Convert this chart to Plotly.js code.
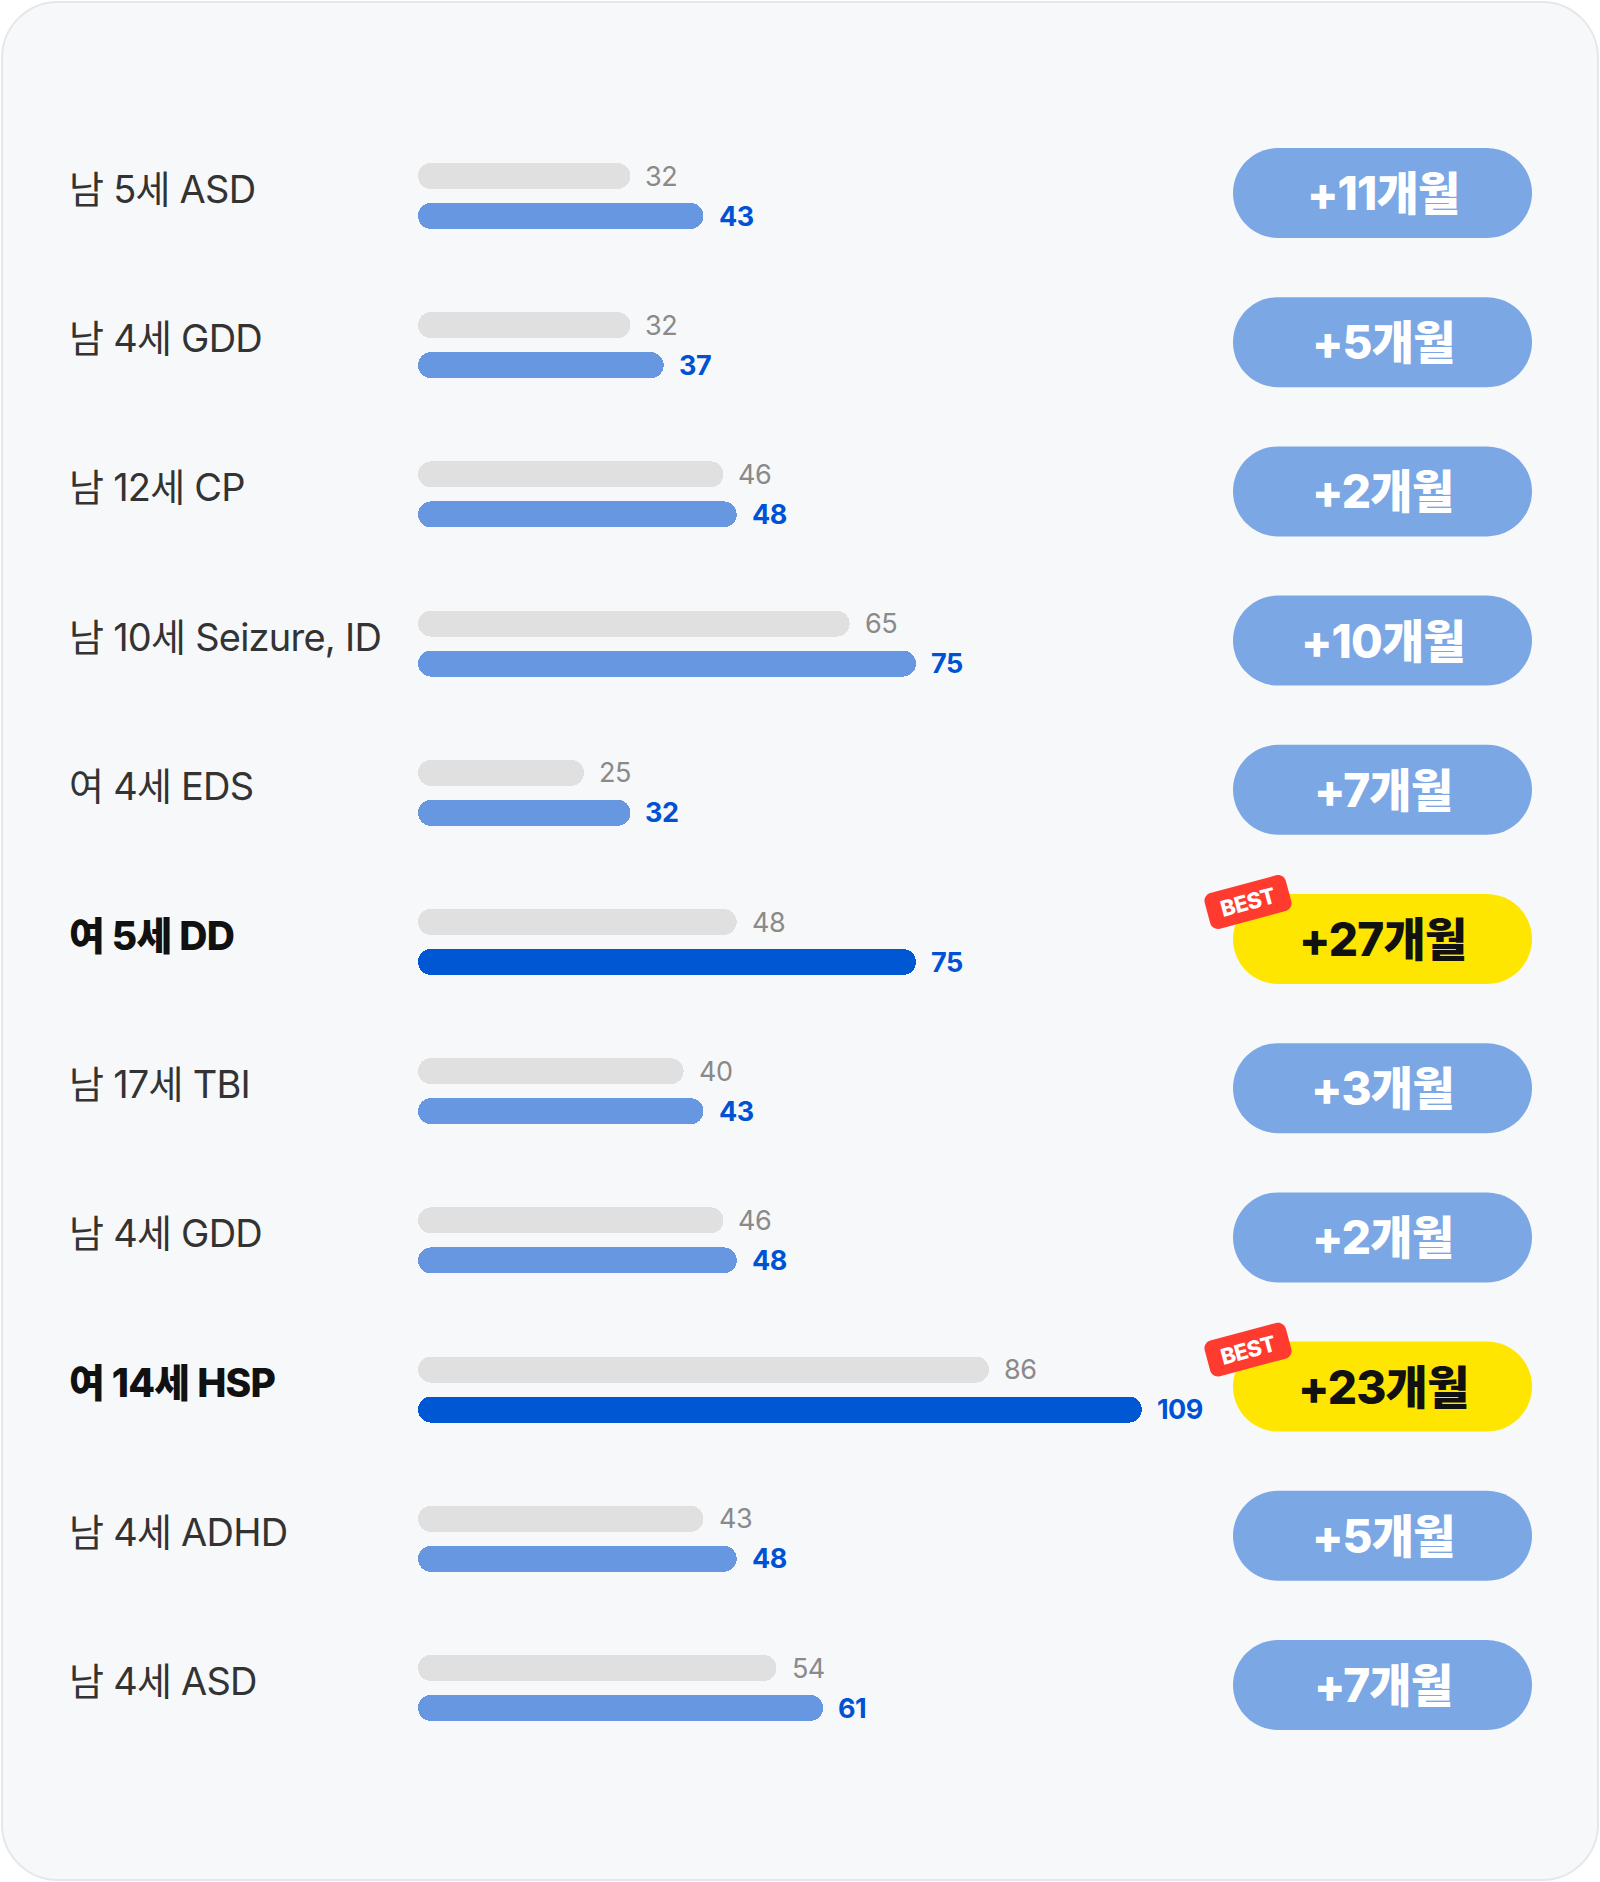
<!DOCTYPE html>
<html>
<head>
<meta charset="utf-8">
<script src="https://cdn.plot.ly/plotly-3.0.1.min.js"></script>
<style>
  html, body { margin: 0; padding: 0; background: #ffffff; }
  #chart { width: 1600px; height: 1882px; }
  .annotation-text { letter-spacing: -0.02em; }
</style>
</head>
<body>
<div id="chart"></div>
<script>
// ---------------- data ----------------
const labels = ['남 5세 ASD', '남 4세 GDD', '남 12세 CP', '남 10세 Seizure, ID', '여 4세 EDS', '여 5세 DD', '남 17세 TBI', '남 4세 GDD', '여 14세 HSP', '남 4세 ADHD', '남 4세 ASD'];
const before = [32, 32, 46, 65, 25, 48, 40, 46, 86, 43, 54];
const after = [43, 37, 48, 75, 32, 75, 43, 48, 109, 48, 61];
const gainLabels = ['+11개월', '+5개월', '+2개월', '+10개월', '+7개월', '+27개월', '+3개월', '+2개월', '+23개월', '+5개월', '+7개월'];
const best = [false, false, false, false, false, true, false, false, true, false, false];
const badgeText = 'BEST';

// ---------------- layout constants ----------------
const W = 1600, H = 1882;
const X0 = 418, PXU = 6.64;          // bar origin (px) and px per unit
const ROW0 = 189, PITCH = 149.2;     // first row centre (px) and row pitch (px)
const FONT = 'Inter, "Noto Sans CJK KR", "Noto Sans", sans-serif';

const idx = labels.map((_, i) => i);
const off = px => px / PITCH;
const GRAY_OFF = off(-13), BLUE_OFF = off(27), BAR_W = off(26);
const PILL_X0 = 1233, PILL_X1 = 1532, PILL_H = 90, PILL_OFF = 4;

const px2paperX = p => p / W;
const px2paperY = p => 1 - p / H;
const rowPx = i => ROW0 + i * PITCH;

const C_GRAY = '#e0e0e0';
const C_BLUE = '#6797e0';
const C_BLUE_STRONG = '#0057d4';
const C_PILL = '#7ca7e5';
const C_YELLOW = '#ffe600';

// ---------------- traces ----------------
const grayY = idx.map(i => i + GRAY_OFF);
const blueY = idx.map(i => i + BLUE_OFF);
const blueColors = best.map(b => b ? C_BLUE_STRONG : C_BLUE);

function barPair(vals, ys, colors) {
  const common = {
    type: 'bar', orientation: 'h', y: ys, width: BAR_W,
    hoverinfo: 'skip', showlegend: false,
    marker: { color: colors, cornerradius: '50%', line: { width: 0 } }
  };
  return [
    Object.assign({}, common, { x: vals, base: vals.map(() => 0) }),
    Object.assign({}, common, { x: vals.map(v => -v / 2), base: vals.map(v => v / 2) })
  ];
}

const traces = [
  ...barPair(before, grayY, before.map(() => C_GRAY)),
  ...barPair(after, blueY, blueColors)
];

// ---------------- shapes ----------------
function roundRectPaper(x0, y0, x1, y1, r) {
  const k = 0.5523 * r;
  const X = px2paperX, Y = px2paperY;
  return `M ${X(x0 + r)},${Y(y0)} L ${X(x1 - r)},${Y(y0)} ` +
    `C ${X(x1 - r + k)},${Y(y0)} ${X(x1)},${Y(y0 + r - k)} ${X(x1)},${Y(y0 + r)} ` +
    `L ${X(x1)},${Y(y1 - r)} ` +
    `C ${X(x1)},${Y(y1 - r + k)} ${X(x1 - r + k)},${Y(y1)} ${X(x1 - r)},${Y(y1)} ` +
    `L ${X(x0 + r)},${Y(y1)} ` +
    `C ${X(x0 + r - k)},${Y(y1)} ${X(x0)},${Y(y1 - r + k)} ${X(x0)},${Y(y1 - r)} ` +
    `L ${X(x0)},${Y(y0 + r)} ` +
    `C ${X(x0)},${Y(y0 + r - k)} ${X(x0 + r - k)},${Y(y0)} ${X(x0 + r)},${Y(y0)} Z`;
}

function rotatedRoundRectPaper(cx, cy, w, h, r, angDeg) {
  const a = angDeg * Math.PI / 180, ca = Math.cos(a), sa = Math.sin(a);
  const k = 0.5523 * r;
  const hw = w / 2, hh = h / 2;
  const pts = [
    ['M', [-hw + r, -hh]],
    ['L', [hw - r, -hh]],
    ['C', [hw - r + k, -hh], [hw, -hh + r - k], [hw, -hh + r]],
    ['L', [hw, hh - r]],
    ['C', [hw, hh - r + k], [hw - r + k, hh], [hw - r, hh]],
    ['L', [-hw + r, hh]],
    ['C', [-hw + r - k, hh], [-hw, hh - r + k], [-hw, hh - r]],
    ['L', [-hw, -hh + r]],
    ['C', [-hw, -hh + r - k], [-hw + r - k, -hh], [-hw + r, -hh]]
  ];
  const tf = ([x, y]) => {
    const px = cx + x * ca - y * sa;
    const py = cy + x * sa + y * ca;
    return `${px2paperX(px)},${px2paperY(py)}`;
  };
  return pts.map(seg => seg[0] + ' ' + seg.slice(1).map(tf).join(' ')).join(' ') + ' Z';
}

const shapes = [];
// card
shapes.push({
  type: 'path', xref: 'paper', yref: 'paper', layer: 'below',
  path: roundRectPaper(2, 2, 1598, 1880, 56),
  fillcolor: '#f7f8fa', line: { color: '#e6e7ea', width: 2 }
});
// pills
idx.forEach(i => {
  const cy = rowPx(i) + PILL_OFF;
  shapes.push({
    type: 'path', xref: 'paper', yref: 'paper', layer: 'below',
    path: roundRectPaper(PILL_X0, cy - PILL_H / 2, PILL_X1, cy + PILL_H / 2, PILL_H / 2),
    fillcolor: best[i] ? C_YELLOW : C_PILL, line: { width: 0 }
  });
});
// best badges
idx.filter(i => best[i]).forEach(i => {
  const cy = rowPx(i) + PILL_OFF - PILL_H / 2 + 8;
  shapes.push({
    type: 'path', xref: 'paper', yref: 'paper', layer: 'above',
    path: rotatedRoundRectPaper(PILL_X0 + 15, cy, 84, 37, 8, -15),
    fillcolor: '#ff3b30', line: { width: 0 }
  });
});

// ---------------- annotations ----------------
const annotations = [];
idx.forEach(i => {
  annotations.push({
    xref: 'paper', yref: 'y', x: 67 / W, y: i, xanchor: 'left', yanchor: 'middle',
    text: labels[i], showarrow: false,
    font: { family: FONT, size: best[i] ? 39 : 38, color: best[i] ? '#111111' : '#333333', weight: best[i] ? 800 : 400 }
  });
  annotations.push({
    xref: 'x', yref: 'y', x: before[i], y: grayY[i], xanchor: 'left', yanchor: 'middle',
    xshift: 13, text: String(before[i]), showarrow: false,
    font: { family: FONT, size: 27, color: '#8a8a8a', weight: 400 }
  });
  annotations.push({
    xref: 'x', yref: 'y', x: after[i], y: blueY[i], xanchor: 'left', yanchor: 'middle',
    xshift: 13, text: String(after[i]), showarrow: false,
    font: { family: FONT, size: 27, color: '#0052d4', weight: 700 }
  });
  annotations.push({
    xref: 'paper', yref: 'y', x: ((PILL_X0 + PILL_X1) / 2) / W, y: i + off(PILL_OFF),
    xanchor: 'center', yanchor: 'middle', text: gainLabels[i], showarrow: false,
    font: { family: FONT, size: 46, color: best[i] ? '#111111' : '#ffffff', weight: 800 }
  });
  if (best[i]) {
    const cy = rowPx(i) + PILL_OFF - PILL_H / 2 + 8;
    annotations.push({
      xref: 'paper', yref: 'paper', x: px2paperX(PILL_X0 + 15), y: px2paperY(cy),
      xanchor: 'center', yanchor: 'middle', text: badgeText, showarrow: false, textangle: -15,
      font: { family: FONT, size: 22, color: '#ffffff', weight: 800 }
    });
  }
});

const layout = {
  width: W, height: H,
  margin: { l: 0, r: 0, t: 0, b: 0, pad: 0 },
  paper_bgcolor: '#ffffff', plot_bgcolor: 'rgba(0,0,0,0)',
  barmode: 'overlay', bargap: 0,
  showlegend: false,
  xaxis: { domain: [X0 / W, 1], range: [0, (W - X0) / PXU], visible: false, fixedrange: true },
  yaxis: { domain: [0, 1], range: [(H - ROW0) / PITCH, -ROW0 / PITCH], visible: false, fixedrange: true },
  shapes: shapes,
  annotations: annotations,
  font: { family: FONT }
};

Plotly.newPlot('chart', traces, layout, { displayModeBar: false, staticPlot: true });
</script>
</body>
</html>
